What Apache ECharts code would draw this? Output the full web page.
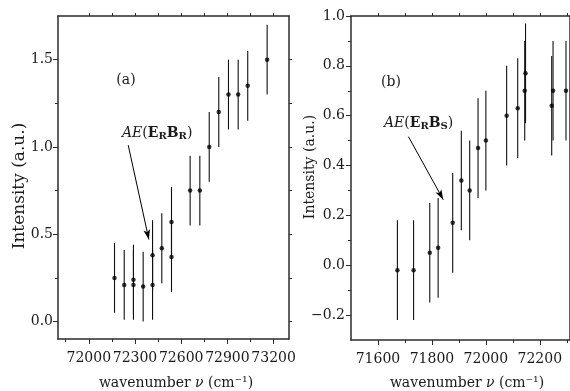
<!DOCTYPE html>
<html><head><meta charset="utf-8">
<script src="https://cdn.jsdelivr.net/npm/echarts@6/dist/echarts.min.js"></script>
<style>html,body{margin:0;padding:0;background:#fff}#c{width:570px;height:391px}</style>
</head><body><div id="c"></div>
<script>
// ---- data: panel (a) ----
const leftX = [72167, 72230, 72290, 72290, 72353, 72414, 72414, 72474, 72537, 72537, 72658, 72721, 72782, 72844, 72907, 72970, 73032, 73158];
const leftY = [0.25, 0.21, 0.24, 0.21, 0.20, 0.38, 0.21, 0.42, 0.57, 0.37, 0.75, 0.75, 1.00, 1.20, 1.30, 1.30, 1.35, 1.50];
const leftErr = [0.2, 0.2, 0.2, 0.2, 0.2, 0.2, 0.2, 0.2, 0.2, 0.2, 0.2, 0.2, 0.2, 0.2, 0.2, 0.2, 0.2, 0.2];
// ---- data: panel (b) ----
const rightX = [71672, 71732, 71792, 71823, 71877, 71909, 71940, 71971, 72000, 72077, 72118, 72144, 72147, 72244, 72249, 72297];
const rightY = [-0.02, -0.02, 0.05, 0.07, 0.17, 0.34, 0.30, 0.47, 0.50, 0.60, 0.63, 0.70, 0.77, 0.64, 0.70, 0.70];
const rightErr = [0.2, 0.2, 0.2, 0.2, 0.2, 0.2, 0.2, 0.2, 0.2, 0.2, 0.2, 0.2, 0.2, 0.2, 0.2, 0.2];
// ---- tick values ----
const leftXTicks = [72000, 72300, 72600, 72900, 73200];
const leftXMinor = [71850, 72150, 72450, 72750, 73050];
const leftXTop = [72000, 72150, 72300, 72450, 72600, 72750, 72900, 73050, 73200];
const leftYTicks = [0.0, 0.5, 1.0, 1.5];
const leftYMinor = [0.25, 0.75, 1.25];
const leftYRight = [0.0, 0.25, 0.5, 0.75, 1.0, 1.25, 1.5];
const rightXTicks = [71600, 71800, 72000, 72200];
const rightXMinor = [71700, 71900, 72100, 72300];
const rightXTop = [71600, 71700, 71800, 71900, 72000, 72100, 72200, 72300];
const rightYTicks = [-0.2, 0.0, 0.2, 0.4, 0.6, 0.8, 1.0];
const rightYMinor = [-0.1, 0.1, 0.3, 0.5, 0.7, 0.9];
// ---- annotation arrows (data coords) ----
const arrowA = [[72256, 1.01], [72390, 0.47]];
const arrowB = [[71713, 0.516], [71842, 0.263]];

const FONT = 'DejaVu Serif';
const AX = '#2b2b2b';
const TXT = '#1a1a1a';

function ax(o) {
  return Object.assign({
    type: 'value', splitLine: { show: false }, axisPointer: { show: false },
    axisLine: { show: false, onZero: false, lineStyle: { color: AX, width: 1.5 } },
    axisTick: { show: false },
    axisLabel: { show: false }
  }, o);
}
function lineOn() { return { show: true, onZero: false, lineStyle: { color: AX, width: 1.5 } }; }
function ticks(vals, len, inside) { return { show: true, customValues: vals, length: len, inside: !!inside, lineStyle: { color: AX, width: 1 } }; }
function labels(vals, margin) {
  return { show: true, customValues: vals, margin: margin, fontFamily: FONT, fontSize: 14, color: TXT,
    formatter: v => (Math.abs(v) >= 1000 ? String(Math.round(v)) : Number(v).toFixed(1).replace('-', '\u2212')) };
}

const xAxes = [
  ax({ gridIndex: 0, position: 'bottom', min: 71800, max: 73300, axisLine: lineOn(), axisTick: ticks(leftXTicks, 5), axisLabel: labels(leftXTicks, 12) }),
  ax({ gridIndex: 0, position: 'bottom', min: 71800, max: 73300, axisTick: ticks(leftXMinor, 3) }),
  ax({ gridIndex: 0, position: 'top', min: 71800, max: 73300, axisLine: lineOn(), axisTick: ticks(leftXTop, 3) }),
  ax({ gridIndex: 1, position: 'bottom', min: 71500, max: 72310, axisLine: lineOn(), axisTick: ticks(rightXTicks, 5), axisLabel: labels(rightXTicks, 12) }),
  ax({ gridIndex: 1, position: 'bottom', min: 71500, max: 72310, axisTick: ticks(rightXMinor, 3) }),
  ax({ gridIndex: 1, position: 'top', min: 71500, max: 72310, axisLine: lineOn(), axisTick: ticks(rightXTop, 3) })
];
const yAxes = [
  ax({ gridIndex: 0, position: 'left', min: -0.1, max: 1.75, axisLine: lineOn(), axisTick: ticks(leftYTicks, 5), axisLabel: labels(leftYTicks, 5) }),
  ax({ gridIndex: 0, position: 'left', min: -0.1, max: 1.75, axisTick: ticks(leftYMinor, 3) }),
  ax({ gridIndex: 0, position: 'right', min: -0.1, max: 1.75, axisLine: lineOn(), axisTick: ticks(leftYRight, 3) }),
  ax({ gridIndex: 1, position: 'left', min: -0.3, max: 1.0, axisLine: lineOn(), axisTick: ticks(rightYTicks, 5), axisLabel: labels(rightYTicks, 6) }),
  ax({ gridIndex: 1, position: 'left', min: -0.3, max: 1.0, axisTick: ticks(rightYMinor, 3) }),
  ax({ gridIndex: 1, position: 'right', min: -0.3, max: 1.0, axisLine: lineOn(), axisTick: { show: false } })
];

function errSeries(xs, ys, es, xi, yi) {
  return {
    type: 'custom', xAxisIndex: xi, yAxisIndex: yi, silent: true, animation: false,
    data: xs.map((x, i) => [x, ys[i] - es[i], ys[i] + es[i]]),
    encode: { x: 0, y: [1, 2] },
    renderItem: (params, api) => {
      const lo = api.coord([api.value(0), api.value(1)]);
      const hi = api.coord([api.value(0), api.value(2)]);
      return { type: 'line', shape: { x1: lo[0], y1: lo[1], x2: hi[0], y2: hi[1] },
        style: { stroke: '#111', lineWidth: 1.1 } };
    }
  };
}
function ptSeries(xs, ys, xi, yi, arrow) {
  return {
    type: 'scatter', xAxisIndex: xi, yAxisIndex: yi, silent: true, animation: false, z: 5,
    symbol: 'circle', symbolSize: 4.5, itemStyle: { color: '#000' },
    data: xs.map((x, i) => [x, ys[i]]),
    markLine: {
      silent: true, animation: false, symbol: ['none', 'arrow'], symbolSize: [5, 10],
      label: { show: false }, lineStyle: { color: '#000', width: 1, type: 'solid' },
      emphasis: { disabled: true },
      data: [[{ coord: arrow[0] }, { coord: arrow[1] }]]
    }
  };
}

const rich = {
  i: { fontFamily: FONT, fontSize: 14, fontStyle: 'italic', fill: TXT, color: TXT, lineHeight: 16 },
  n: { fontFamily: FONT, fontSize: 14, fill: TXT, color: TXT, lineHeight: 16 },
  b: { fontFamily: FONT, fontSize: 14, fontWeight: 'bold', fill: TXT, color: TXT, lineHeight: 16 },
  s: { fontFamily: FONT, fontSize: 10, fontWeight: 'bold', fill: TXT, color: TXT, lineHeight: 10, verticalAlign: 'bottom' }
};
function txt(x, y, text, size, rot, align) {
  return { type: 'text', x: x, y: y, rotation: rot || 0, silent: true,
    style: { text: text, fontFamily: FONT, fontSize: size, fill: TXT, align: align || 'center', verticalAlign: 'middle', rich: rich } };
}

const chart = echarts.init(document.getElementById('c'), null, { renderer: 'canvas' });
chart.setOption({
  animation: false,
  backgroundColor: '#fff',
  grid: [
    { left: 58, top: 16, width: 231, height: 323 },
    { left: 351, top: 16, width: 218.5, height: 324 }
  ],
  xAxis: xAxes,
  yAxis: yAxes,
  series: [
    errSeries(leftX, leftY, leftErr, 0, 0),
    ptSeries(leftX, leftY, 0, 0, arrowA),
    errSeries(rightX, rightY, rightErr, 3, 3),
    ptSeries(rightX, rightY, 3, 3, arrowB)
  ],
  graphic: [
    txt(20, 186, 'Intensity (a.u.)', 17, Math.PI / 2),
    txt(310, 167, 'Intensity (a.u.)', 14, Math.PI / 2),
    txt(176, 383, '{n|wavenumber }{i|\u03bd}{n| (cm\u207b\u00b9)}', 14),
    txt(467, 383, '{n|wavenumber }{i|\u03bd}{n| (cm\u207b\u00b9)}', 14),
    txt(126, 80, '(a)', 14),
    txt(391, 82, '(b)', 14),
    txt(122, 133, '{i|AE}{n|(}{b|E}{s|R}{b|B}{s|R}{n|)}', 14, 0, 'left'),
    txt(384, 123, '{i|AE}{n|(}{b|E}{s|R}{b|B}{s|S}{n|)}', 14, 0, 'left')
  ]
});
</script>
</body></html>
